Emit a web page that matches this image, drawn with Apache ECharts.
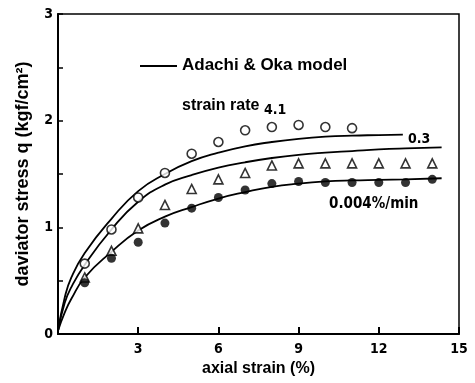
<!DOCTYPE html>
<html>
<head>
<meta charset="utf-8">
<style>
  html, body { margin: 0; padding: 0; background: #fff; }
  #main { width: 475px; height: 383px; }
</style>
<script src="https://cdn.jsdelivr.net/npm/echarts@6/dist/echarts.min.js"></script>
</head>
<body>
<div id="main"></div>
<script>
var chartDom = document.getElementById("main");
var myChart = echarts.init(chartDom);
var option;

// measured points, by strain rate
const rate41X = [1, 2, 3, 4, 5, 6, 7, 8, 9, 10, 11];
const rate41Q = [0.66, 0.98, 1.28, 1.51, 1.69, 1.8, 1.91, 1.94, 1.96, 1.94, 1.93];
const rate03X = [1, 2, 3, 4, 5, 6, 7, 8, 9, 10, 11, 12, 13, 14];
const rate03Q = [0.53, 0.78, 0.99, 1.21, 1.36, 1.45, 1.51, 1.58, 1.6, 1.6, 1.6, 1.6, 1.6, 1.6];
const rate0004X = [1, 2, 3, 4, 5, 6, 7, 8, 9, 10, 11, 12, 13, 14];
const rate0004Q = [0.48, 0.71, 0.86, 1.04, 1.18, 1.28, 1.35, 1.41, 1.43, 1.42, 1.42, 1.42, 1.42, 1.45];

// Adachi & Oka model curves
const model41X = [0, 0.25, 0.5, 1, 2, 3, 4, 5, 6, 7, 8, 9, 10, 11, 12, 12.9];
const model41Q = [0.03, 0.34, 0.53, 0.76, 1.08, 1.34, 1.5, 1.62, 1.7, 1.76, 1.8, 1.83, 1.85, 1.86, 1.865, 1.87];
const model03X = [0, 0.25, 0.5, 1, 2, 3, 4, 5, 6, 7, 8, 9, 10, 11, 12, 13, 14.35];
const model03Q = [0.03, 0.29, 0.44, 0.65, 0.98, 1.24, 1.4, 1.49, 1.56, 1.61, 1.65, 1.68, 1.7, 1.715, 1.73, 1.74, 1.75];
const model0004X = [0, 0.25, 0.5, 1, 2, 3, 4, 5, 6, 7, 8, 9, 10, 11, 12, 13, 14.35];
const model0004Q = [0.03, 0.2, 0.33, 0.53, 0.77, 0.97, 1.1, 1.19, 1.27, 1.33, 1.38, 1.41, 1.43, 1.44, 1.445, 1.45, 1.46];

function pairs(xs, ys) {
  return xs.map(function (x, i) {
    return [x, ys[i]];
  });
}

const tickFont = "'DejaVu Sans Condensed', 'Liberation Sans Narrow', sans-serif";
const textFont = "'Liberation Sans', Arial, sans-serif";

function modelLine(name, xs, ys) {
  return {
    name: name,
    type: "line",
    smooth: 0.5,
    showSymbol: false,
    silent: true,
    lineStyle: { color: "#000", width: 1.8 },
    data: pairs(xs, ys),
    z: 3,
  };
}

option = {
  animation: false,
  backgroundColor: "#fff",
  grid: {
    left: 58,
    right: 16,
    top: 14,
    bottom: 49,
    show: true,
    borderColor: "#000",
    borderWidth: 1.5,
  },
  xAxis: {
    type: "value",
    min: 0,
    max: 15,
    interval: 3,
    name: "axial strain (%)",
    nameLocation: "middle",
    nameGap: 26,
    nameTextStyle: { fontFamily: textFont, fontWeight: "bold", fontSize: 16, color: "#000" },
    axisLine: { lineStyle: { color: "#000", width: 2 } },
    axisTick: { inside: true, length: 7, lineStyle: { color: "#000", width: 2 } },
    axisLabel: {
      margin: 8,
      fontFamily: tickFont,
      fontWeight: "bold",
      fontSize: 14,
      color: "#000",
      formatter: function (v) {
        return v === 0 ? "" : String(v);
      },
    },
    splitLine: { show: false },
  },
  yAxis: {
    type: "value",
    min: 0,
    max: 3,
    interval: 1,
    name: "daviator stress q (kgf/cm²)",
    nameLocation: "middle",
    nameRotate: 90,
    nameGap: 26,
    nameTextStyle: { fontFamily: textFont, fontWeight: "bold", fontSize: 18, color: "#000" },
    axisLine: { lineStyle: { color: "#000", width: 2 } },
    axisTick: { inside: true, length: 5, lineStyle: { color: "#000", width: 1.5 } },
    minorTick: { show: true, splitNumber: 2, length: 5, lineStyle: { color: "#000", width: 1.5 } },
    axisLabel: {
      margin: 5,
      fontFamily: tickFont,
      fontWeight: "bold",
      fontSize: 14,
      color: "#000",
    },
    splitLine: { show: false },
  },
  graphic: [
    {
      type: "line",
      shape: { x1: 140, y1: 66, x2: 177, y2: 66 },
      style: { stroke: "#000", lineWidth: 1.8 },
    },
    {
      type: "text",
      left: 182,
      top: 57,
      style: { text: "Adachi & Oka model", font: "bold 17px " + textFont, fill: "#000" },
    },
    {
      type: "text",
      left: 182,
      top: 98,
      style: { text: "strain rate", font: "bold 16px " + textFont, fill: "#000" },
    },
    {
      type: "text",
      left: 264,
      top: 103,
      style: { text: "4.1", font: "bold 14px " + tickFont, fill: "#000" },
    },
    {
      type: "text",
      left: 408,
      top: 132,
      style: { text: "0.3", font: "bold 14px " + tickFont, fill: "#000" },
    },
    {
      type: "text",
      left: 329,
      top: 197,
      style: { text: "0.004%/min", font: "bold 15px " + tickFont, fill: "#000" },
    },
  ],
  series: [
    modelLine("model 4.1", model41X, model41Q),
    modelLine("model 0.3", model03X, model03Q),
    modelLine("model 0.004", model0004X, model0004Q),
    {
      name: "4.1",
      type: "scatter",
      symbol: "circle",
      symbolSize: 9,
      itemStyle: { color: "#fff", borderColor: "#000", borderWidth: 1.6 },
      data: pairs(rate41X, rate41Q),
      z: 4,
    },
    {
      name: "0.3",
      type: "scatter",
      symbol: "triangle",
      symbolSize: 9,
      itemStyle: { color: "#fff", borderColor: "#000", borderWidth: 1.6 },
      data: pairs(rate03X, rate03Q),
      z: 4,
    },
    {
      name: "0.004%/min",
      type: "scatter",
      symbol: "circle",
      symbolSize: 9,
      itemStyle: { color: "#000" },
      data: pairs(rate0004X, rate0004Q),
      z: 4,
    },
  ],
};

option && myChart.setOption(option);
</script>
</body>
</html>
